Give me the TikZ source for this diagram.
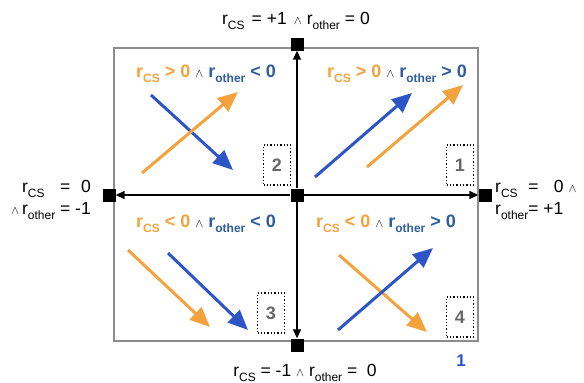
\documentclass[tikz,border=0pt]{standalone}
\usepackage{fontspec}
\setmainfont{Liberation Sans}
\usetikzlibrary{arrows.meta}

\definecolor{csorange}{HTML}{F4A23C}
\definecolor{otherblue}{HTML}{2C56C8}
\definecolor{labelblue}{HTML}{2F5E9E}
\definecolor{boxgray}{HTML}{666666}
\definecolor{framegray}{HTML}{8C8C8C}

\newcommand{\lowsub}[1]{\raisebox{-0.55ex}{\fontsize{12}{12}\selectfont #1}}
\newcommand{\andsym}{{\fontsize{12.5}{12.5}\selectfont$\wedge$}}

\tikzset{
    pin/.style={fill=black, minimum size=13pt, inner sep=0pt},
    axis/.style={line width=1.6pt, -{Triangle[length=9pt,width=8pt]}},
    move/.style={line width=3pt, -{Triangle[length=20pt,width=17pt]}},
    numbox/.style={draw, dotted, line width=1.3pt, minimum width=27pt, minimum height=40pt,
        text=boxgray, font=\fontsize{18}{18}\selectfont\bfseries},
    quad/.style={font=\fontsize{18}{18}\selectfont\bfseries, inner sep=0pt, anchor=base},
    axlabel/.style={font=\fontsize{17.5}{22}\selectfont, inner sep=0pt},
}

\begin{document}
\begin{tikzpicture}[x=1pt,y=-1pt]
    \useasboundingbox (0,0) rectangle (584,383);
    \draw[framegray, line width=1.5pt] (114,48) rectangle (478,341);

    % ends of the axes
    \foreach \n/\x/\y in {c/297/195, t/297/44, b/297/345, l/109/195, r/485/195} {
        \node[pin] (\n) at (\x,\y) {};
    }
    \foreach \n in {t,b,l,r} {
        \draw[axis] (c) -- (\n);
    }

    % axis labels
    \node[axlabel, anchor=base] (tlab) at (296,24)
        {r\lowsub{CS}\hspace{7pt}=\hspace{5pt}+1\hspace{7pt}\andsym\hspace{5pt}r\lowsub{other}\hspace{5pt}=\hspace{5pt}0};
    \node[axlabel, anchor=base] (blab) at (305,376)
        {r\lowsub{CS} = -1 \andsym{} r\lowsub{other} = \ 0};
    \node[axlabel, anchor=east] (llab) at (91,199)
        {\begin{tabular}{@{}r@{\,}l@{\ }c@{\ }r@{}}
            & r\lowsub{CS} & = & 0 \\[0pt]
            \andsym & r\lowsub{other} & = & -1
        \end{tabular}};
    \node[axlabel, anchor=west] (rlab) at (495,199)
        {\begin{tabular}{@{}l@{}c@{\ }l@{}}
            r\lowsub{CS} & = & \hspace{0.6em}0 \andsym \\[0pt]
            r\lowsub{other} & = & +1
        \end{tabular}};

    % quadrant labels
    \node[quad] (q2) at (206,77) {{\color{csorange}r\lowsub{CS} > 0} {\mdseries\andsym} {\color{labelblue}r\lowsub{other} < 0}};
    \node[quad] (q1) at (397,77) {{\color{csorange}r\lowsub{CS} > 0} {\mdseries\andsym} {\color{labelblue}r\lowsub{other} > 0}};
    \node[quad] (q3) at (206,227) {{\color{csorange}r\lowsub{CS} < 0} {\mdseries\andsym} {\color{labelblue}r\lowsub{other} < 0}};
    \node[quad] (q4) at (386,227) {{\color{csorange}r\lowsub{CS} < 0} {\mdseries\andsym} {\color{labelblue}r\lowsub{other} > 0}};

    % movements
    \foreach \col/\xs/\ys/\xe/\ye in {
        otherblue/151/95/233/170, csorange/142/173/238/92,
        otherblue/315/177/412/93, csorange/367/167/463/85,
        csorange/128/250/210/327, otherblue/168/253/248/330,
        csorange/339/255/427/332, otherblue/338/330/433/248} {
        \draw[move, \col] (\xs,\ys) -- (\xe,\ye);
    }

    % quadrant numbers
    \foreach \n/\x/\y in {1/460/165, 2/277/165, 3/271/313, 4/460/317} {
        \node[numbox] (box\n) at (\x,\y) {\n};
    }
    \node[text=otherblue, font=\fontsize{17}{17}\selectfont\bfseries] (one) at (461,361) {1};
\end{tikzpicture}
\end{document}
